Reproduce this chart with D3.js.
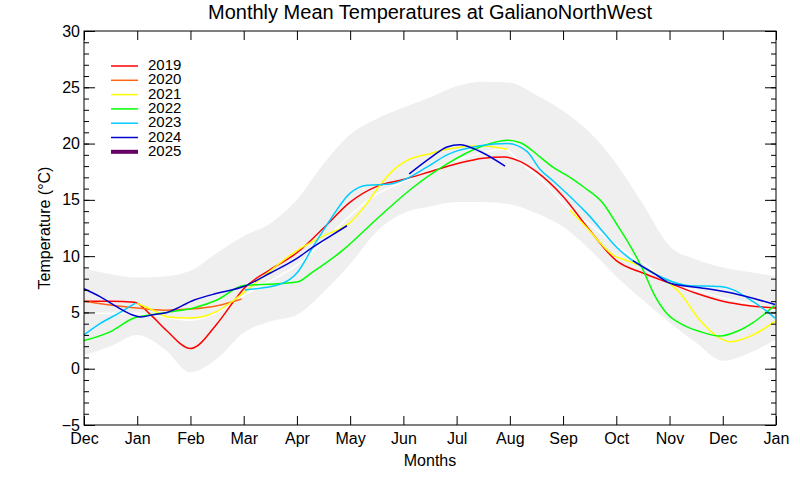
<!DOCTYPE html>
<html>
<head>
<meta charset="utf-8">
<script src="https://cdn.jsdelivr.net/npm/d3@7"></script>
<style>
  html, body { margin: 0; padding: 0; background: #fff; }
  svg { display: block; }
  text { font-family: "Liberation Sans", Arial, Helvetica, sans-serif; fill: #000; }
</style>
</head>
<body>
<svg id="chart" width="800" height="480"></svg>
<script>
// ---------- data ----------
const monthLabels = ["Dec","Jan","Feb","Mar","Apr","May","Jun","Jul","Aug","Sep","Oct","Nov","Dec","Jan"];
const yearNames = ["2019","2020","2021","2022","2023","2024","2025"];
const yearColors = ["#ff0000","#ff6414","#ffff00","#00ff00","#00ccff","#0000d0","#660066"];

// historical range band and mean (month position: 0 = Dec tick, 13 = Jan tick)
const bandT    = [0,0.5,1,1.5,2,2.5,3,3.5,4,4.5,5,5.5,6,6.5,7,7.5,8,8.5,9,9.5,10,10.5,11,11.5,12,12.5,13];
const bandHigh = [8.9,8.4,8.1,8.2,8.7,10.3,11.8,12.9,15.0,18.2,20.8,22.2,23.2,24.1,25.1,25.5,25.4,24.3,22.9,21.0,18.2,14.6,10.9,9.7,9.0,8.6,8.2];
const bandLow  = [1.2,2.0,3.0,1.8,-0.3,0.9,3.2,4.2,4.8,6.8,9.3,12.2,13.8,14.4,14.8,14.8,14.6,13.8,12.6,10.6,8.2,6.1,4.1,2.3,0.7,1.4,2.6];
const meanT    = [0,0.5,1,1.5,2,2.5,3,3.5,4,4.5,5,5.5,6,6.5,7,7.5,7.9,8.2,8.57,9.13,9.5,10,10.31,10.5,11.07,11.5,12,12.5,13];
const meanV    = [5.0,4.9,4.9,4.6,4.3,5.0,6.5,7.8,9.2,11.3,13.6,15.5,16.6,17.6,18.5,19.2,19.5,18.3,16.9,14.1,12.8,11.0,9.9,9.4,7.4,7.0,6.3,5.8,5.2];

// yearly series (null = gap)
const t2019 = [0,0.5,0.95,1.25,1.55,2,2.5,2.8,3,3.5,4,4.5,5,5.5,6,6.5,7,7.5,7.9,8.2,8.5,9,9.5,10,10.5,11,11.5,12,12.5,13];
const v2019 = [6.0,6.0,5.9,4.8,3.4,1.8,4.0,5.9,7.1,8.8,10.3,12.5,14.8,16.2,16.8,17.5,18.2,18.7,18.8,18.4,17.5,15.3,12.3,9.6,8.5,7.6,6.7,6.0,5.6,5.4];

const t2020 = [0,0.6,1,1.5,2,2.5,2.96];
const v2020 = [6.0,5.6,5.4,5.2,5.3,5.6,6.2];

const t2021 = [1,1.3,1.56,1.97,2.2,2.5,2.82,3.14,3.5,4,4.5,5,5.3,5.56,5.8,6.07,6.5,6.82,7.44,7.95,8.5,9.13,9.45,9.94,10.26,10.88,11.2,11.57,11.95,12.14,12.57,12.98];
const v2021 = [5.8,5.2,4.6,4.5,4.6,5.1,6.1,7.3,8.7,10.5,11.8,13.0,14.6,16.3,17.6,18.5,19.1,19.5,19.8,19.5,null,14.1,12.5,10.1,9.5,8.0,6.7,4.3,2.7,2.4,3.0,4.2];

const t2022 = [0,0.5,0.94,1.56,2.06,2.5,3.0,3.44,4.0,4.3,4.88,5.5,6.18,6.82,7.44,7.95,8.19,8.57,8.81,9.13,9.4,9.75,10.0,10.2,10.5,10.7,10.95,11.25,11.57,11.95,12.26,12.57,12.97];
const v2022 = [2.5,3.3,4.5,5.0,5.4,6.1,7.4,7.5,7.7,8.6,10.6,13.3,16.1,18.2,19.7,20.3,20.1,18.8,17.9,17.0,16.1,14.7,12.9,11.4,8.8,6.7,4.9,3.9,3.3,2.9,3.3,4.1,5.6];

const t2023 = [0,0.3,0.68,0.96,2,3.02,3.68,4.0,4.3,4.62,5.0,5.32,5.75,6.07,6.44,6.82,7.44,7.95,8.32,8.57,8.81,9.45,10.07,10.69,11.33,11.95,12.2,12.46,12.8,12.98];
const v2023 = [3.0,4.0,5.0,5.8,null,7.0,7.5,8.5,10.8,13.2,15.6,16.3,16.4,16.9,17.9,19.0,19.8,20.0,19.3,17.7,16.7,13.8,10.5,8.5,7.4,7.3,7.0,6.3,5.2,4.5];

const t2024 = [0,0.3,0.62,0.9,1.07,1.3,1.56,2.07,2.5,3.0,3.5,4.0,4.3,4.5,4.94,5.5,6.11,6.5,6.82,7.06,7.44,7.91,9,10.31,10.7,11.01,11.57,12.19,12.98];
const v2024 = [7.1,6.4,5.5,4.8,4.6,4.8,5.0,6.1,6.7,7.3,8.5,9.8,10.8,11.4,12.7,null,17.3,18.7,19.7,19.9,19.3,18.0,null,9.6,8.5,7.6,7.2,6.7,5.7];

const t2025 = [];
const v2025 = [];

const seriesT = [t2019,t2020,t2021,t2022,t2023,t2024,t2025];
const seriesV = [v2019,v2020,v2021,v2022,v2023,v2024,v2025];

const yTickValues = [-5,0,5,10,15,20,25,30];

// ---------- layout ----------
const svg = d3.select("#chart");
const L = 84, R = 776, T = 31, B = 425;
const x = d3.scaleLinear().domain([0, 13]).range([L, R]);
const y = d3.scaleLinear().domain([-5, 30]).range([B, T]);

// band
const bandData = bandT.map((t, i) => ({t, lo: bandLow[i], hi: bandHigh[i]}));
svg.append("path")
  .datum(bandData)
  .attr("fill", "#efefef")
  .attr("d", d3.area().x(d => x(d.t)).y0(d => y(d.lo)).y1(d => y(d.hi)).curve(d3.curveMonotoneX));

// mean line
const meanData = meanT.map((t, i) => ({t, v: meanV[i]}));
svg.append("path")
  .datum(meanData)
  .attr("fill", "none")
  .attr("stroke", "#ffffff")
  .attr("stroke-width", 1.5)
  .attr("d", d3.line().x(d => x(d.t)).y(d => y(d.v)).curve(d3.curveMonotoneX));

// series
const line = d3.line()
  .defined(d => d.v !== null)
  .x(d => x(d.t)).y(d => y(d.v))
  .curve(d3.curveMonotoneX);

seriesT.forEach((ts, k) => {
  const data = ts.map((t, i) => ({t, v: seriesV[k][i]}));
  if (!data.length) return;
  svg.append("path")
    .datum(data)
    .attr("fill", "none")
    .attr("stroke", yearColors[k])
    .attr("stroke-width", 1.5)
    .attr("d", line);
});

// axes
const monthTicks = d3.range(0, 14);
const gB = svg.append("g").attr("transform", `translate(0,${B})`)
  .call(d3.axisBottom(x).tickValues(monthTicks).tickFormat(i => monthLabels[i]).tickSize(-9).tickPadding(8).tickSizeOuter(0));
const gT = svg.append("g").attr("transform", `translate(0,${T})`)
  .call(d3.axisTop(x).tickValues(monthTicks).tickFormat("").tickSize(-9).tickSizeOuter(0));
const gL = svg.append("g").attr("transform", `translate(${L},0)`)
  .call(d3.axisLeft(y).tickValues(yTickValues).tickSize(-11).tickPadding(4).tickSizeOuter(0));
const gLm = svg.append("g").attr("transform", `translate(${L},0)`)
  .call(d3.axisLeft(y).tickValues(d3.range(-5, 31)).tickFormat("").tickSize(-5).tickSizeOuter(0));
const gR = svg.append("g").attr("transform", `translate(${R},0)`)
  .call(d3.axisRight(y).tickValues(yTickValues).tickFormat("").tickSize(-11).tickSizeOuter(0));
const gRm = svg.append("g").attr("transform", `translate(${R},0)`)
  .call(d3.axisRight(y).tickValues(d3.range(-5, 31)).tickFormat("").tickSize(-5).tickSizeOuter(0));

[gB, gT, gL, gLm, gR, gRm].forEach(g => {
  g.select(".domain").remove();
  g.selectAll("line").attr("stroke", "#000").attr("stroke-width", 1);
  g.selectAll("text").attr("font-size", 16).attr("fill", "#000")
    .attr("font-family", "'Liberation Sans', Arial, sans-serif");
});

svg.append("rect")
  .attr("x", L).attr("y", T).attr("width", R - L).attr("height", B - T)
  .attr("fill", "none").attr("stroke", "#000").attr("stroke-width", 1);

// titles
svg.append("text").attr("x", (L + R) / 2).attr("y", 19)
  .attr("text-anchor", "middle").attr("font-size", 20)
  .text("Monthly Mean Temperatures at GalianoNorthWest");
svg.append("text").attr("x", (L + R) / 2).attr("y", 466)
  .attr("text-anchor", "middle").attr("font-size", 16)
  .text("Months");
svg.append("text").attr("transform", `translate(50,${(T + B) / 2}) rotate(-90)`)
  .attr("text-anchor", "middle").attr("font-size", 16)
  .text("Temperature (°C)");

// legend
const lg = svg.append("g");
yearNames.forEach((name, i) => {
  const yy = 66 + i * 14.3;
  lg.append("line").attr("x1", 111).attr("x2", 138).attr("y1", yy).attr("y2", yy)
    .attr("stroke", yearColors[i]).attr("stroke-width", i === 6 ? 4 : 1.5);
  lg.append("text").attr("x", 148).attr("y", yy + 4).attr("font-size", 15).text(name);
});
</script>
</body>
</html>
